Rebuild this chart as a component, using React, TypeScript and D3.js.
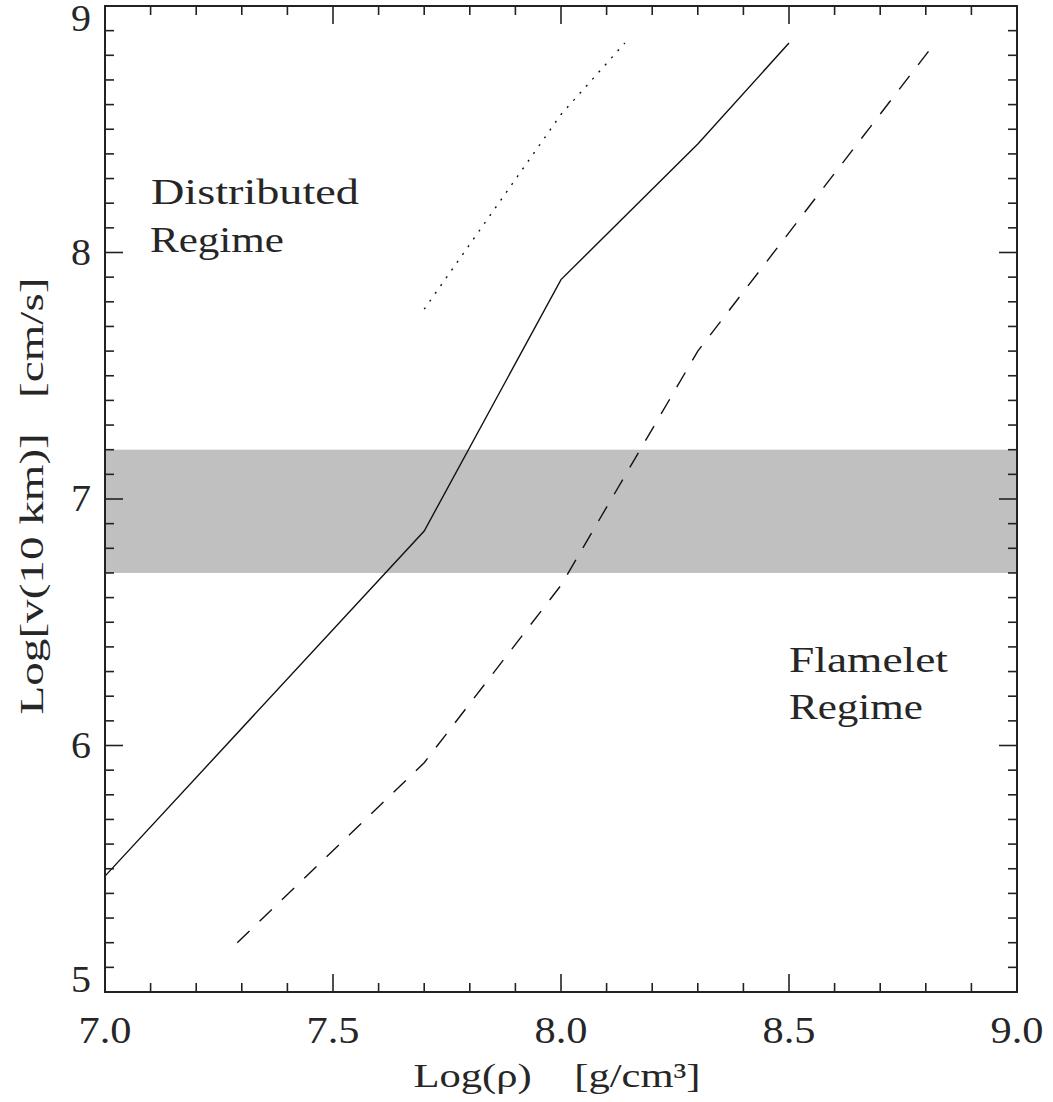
import React, { useLayoutEffect, useRef, useState } from "react";
import * as d3 from "d3";

// ---- data ----
const xDomain = [7.0, 9.0];
const yDomain = [5, 9];
const xTickLabels = ["7.0", "7.5", "8.0", "8.5", "9.0"];
const xTickValues = [7.0, 7.5, 8.0, 8.5, 9.0];
const yTickLabels = ["5", "6", "7", "8", "9"];
const yTickValues = [5, 6, 7, 8, 9];

const solidRho = [7.0, 7.7, 8.0, 8.3, 8.5];
const solidV = [5.47, 6.87, 7.89, 8.44, 8.85];
const dashedRho = [7.29, 7.7, 8.0, 8.3, 8.82];
const dashedV = [5.2, 5.93, 6.65, 7.6, 8.85];
const dottedRho = [7.7, 8.0, 8.14];
const dottedV = [7.77, 8.56, 8.85];
const bandRange = [6.7, 7.2];

const xTitle = "Log(ρ)\u00a0\u00a0\u00a0\u00a0[g/cm³]";
const yTitle = "Log[v(10\u00a0km)]\u00a0\u00a0\u00a0[cm/s]";
const distributedLines = ["Distributed", "Regime"];
const flameletLines = ["Flamelet", "Regime"];

const W = 1053;
const H = 1102;
const L = 105, R = 1017, T = 6, B = 992;
const FONT = "Liberation Serif";
const TEXT_COLOR = "#262626";

type FitProps = {
  x: number;
  y: number;
  width: number;
  fontSize: number;
  anchor?: "start" | "middle" | "end";
  rotate?: number;
  text: string;
};

function FitText({ x, y, width, fontSize, anchor = "start", rotate = 0, text }: FitProps) {
  const ref = useRef<SVGTextElement>(null);
  const [s, setS] = useState(1);
  useLayoutEffect(() => {
    if (ref.current) {
      const w = ref.current.getComputedTextLength();
      if (w > 0) setS(width / w);
    }
  }, [width, text, fontSize]);
  return (
    <text
      ref={ref}
      transform={`translate(${x},${y}) rotate(${rotate}) scale(${s},1)`}
      textAnchor={anchor}
      fontFamily={FONT}
      fontSize={fontSize}
      fill={TEXT_COLOR}
    >
      {text}
    </text>
  );
}

export default function App() {
  const x = d3.scaleLinear().domain(xDomain).range([L, R]);
  const y = d3.scaleLinear().domain(yDomain).range([B, T]);
  const line = d3
    .line<[number, number]>()
    .x((d) => x(d[0]))
    .y((d) => y(d[1]));
  const zip = (a: number[], b: number[]) => a.map((v, i) => [v, b[i]] as [number, number]);

  const xMinor = d3.range(70, 91).map((i) => ({ v: i / 10, major: i % 5 === 0 }));
  const yMinor = d3.range(50, 91).map((i) => ({ v: i / 10, major: i % 10 === 0 }));
  const MAJ = 18, MIN = 9;
  const tickColor = "#222";

  return (
    <svg
      width={W}
      height={H}
      style={{ position: "absolute", left: 0, top: 0, background: "#fff" }}
      xmlns="http://www.w3.org/2000/svg"
    >
      <rect x={0} y={0} width={W} height={H} fill="#fff" />
      <rect
        x={x(xDomain[0])}
        y={y(bandRange[1])}
        width={x(xDomain[1]) - x(xDomain[0])}
        height={y(bandRange[0]) - y(bandRange[1])}
        fill="#c0c0c0"
      />
      <path d={line(zip(solidRho, solidV)) || ""} fill="none" stroke="#111" strokeWidth={1.4} />
      <path d={line(zip(dashedRho, dashedV)) || ""} fill="none" stroke="#111" strokeWidth={1.4} strokeDasharray="17,14" />
      <path d={line(zip(dottedRho, dottedV)) || ""} fill="none" stroke="#111" strokeWidth={1.4} strokeDasharray="2,7.5" />
      {xMinor.map((t, i) => {
        const len = t.major ? MAJ : MIN;
        const px = x(t.v);
        return (
          <g key={"xt" + i} stroke={tickColor} strokeWidth={1.6}>
            <line x1={px} x2={px} y1={B} y2={B - len} />
            <line x1={px} x2={px} y1={T} y2={T + len} />
          </g>
        );
      })}
      {yMinor.map((t, i) => {
        const len = t.major ? MAJ : MIN;
        const py = y(t.v);
        return (
          <g key={"yt" + i} stroke={tickColor} strokeWidth={1.6}>
            <line x1={L} x2={L + len} y1={py} y2={py} />
            <line x1={R} x2={R - len} y1={py} y2={py} />
          </g>
        );
      })}
      <rect x={L} y={T} width={R - L} height={B - T} fill="none" stroke={tickColor} strokeWidth={2} />
      {xTickValues.map((v, i) => (
        <FitText key={"xl" + i} x={x(v)} y={1043} width={53} fontSize={37} anchor="middle" text={xTickLabels[i]} />
      ))}
      {yTickValues.map((v, i) => {
        const c = Math.min(Math.max(y(v), T + 13), B - 12);
        return <FitText key={"yl" + i} x={91} y={c + 12} width={20} fontSize={37} anchor="end" text={yTickLabels[i]} />;
      })}
      <FitText x={557} y={1087} width={287} fontSize={33} anchor="middle" text={xTitle} />
      <FitText x={43} y={496} width={437} fontSize={34} anchor="middle" rotate={-90} text={yTitle} />
      <FitText x={151} y={204} width={208} fontSize={35} text={distributedLines[0]} />
      <FitText x={150} y={252} width={134} fontSize={35} text={distributedLines[1]} />
      <FitText x={789} y={672} width={159} fontSize={35} text={flameletLines[0]} />
      <FitText x={789} y={719} width={134} fontSize={35} text={flameletLines[1]} />
    </svg>
  );
}
